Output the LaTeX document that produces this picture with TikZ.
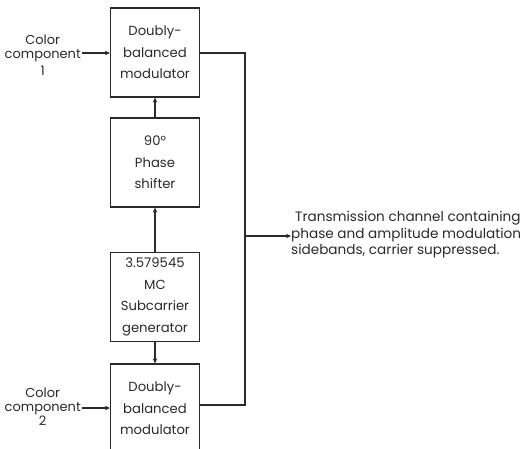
\documentclass[tikz,border=0pt]{standalone}
\usepackage{fontspec}
\setmainfont{Poppins}
\usetikzlibrary{arrows.meta}
\definecolor{ink}{HTML}{2A2A2A}
\begin{document}
\begin{tikzpicture}[x=1pt,y=-1pt,
  blk/.style={draw=ink,line width=1.2pt,minimum width=89pt,minimum height=89pt,inner sep=0pt,align=center,font=\fontsize{13.2}{21.5}\selectfont,text=ink},
  lbl/.style={align=center,font=\fontsize{13}{14}\selectfont,text=ink,inner sep=1pt},
  wire/.style={draw=ink,line width=1.2pt},
  arr/.style={wire,-{Stealth[length=5pt,width=4.5pt]}}]
\useasboundingbox (0,0) rectangle (524,449);
\node[blk] (m1) at (155,52.5) {Doubly-\\balanced\\modulator};
\node[blk] (ph) at (155,162.5) {90°\\Phase\\shifter};
\node[blk] (gen) at (155,297) {3.579545\\MC\\Subcarrier\\generator};
\node[blk] (m2) at (155,408.5) {Doubly-\\balanced\\modulator};
\node[lbl,anchor=east] (c1) at (82,55) {Color\\component\\[3pt]1};
\node[lbl,anchor=east] (c2) at (82,407) {Color\\component\\2};
\node[lbl,anchor=west,align=left,font=\fontsize{13.6}{16.5}\selectfont,inner sep=0pt] (out) at (291,235) {\hspace*{4pt}Transmission channel containing\\phase and amplitude modulation\\sidebands, carrier suppressed.};
\coordinate (j1) at (245,53);
\coordinate (j2) at (245,405);
\coordinate (jm) at (245,236);
\draw[arr] (c1.east |- 0,53) -- (m1.west |- 0,53);
\draw[arr] (c2.east |- 0,408) -- (m2.west |- 0,408);
\draw[arr] (ph) -- (m1);
\draw[arr] (gen) -- (ph);
\draw[arr] (gen) -- (m2);
\draw[wire] (m1.east |- j1) -- (j1) -- (j2) -- (m2.east |- j2);
\draw[arr] (jm) -- (out.west |- jm);
\end{tikzpicture}
\end{document}
